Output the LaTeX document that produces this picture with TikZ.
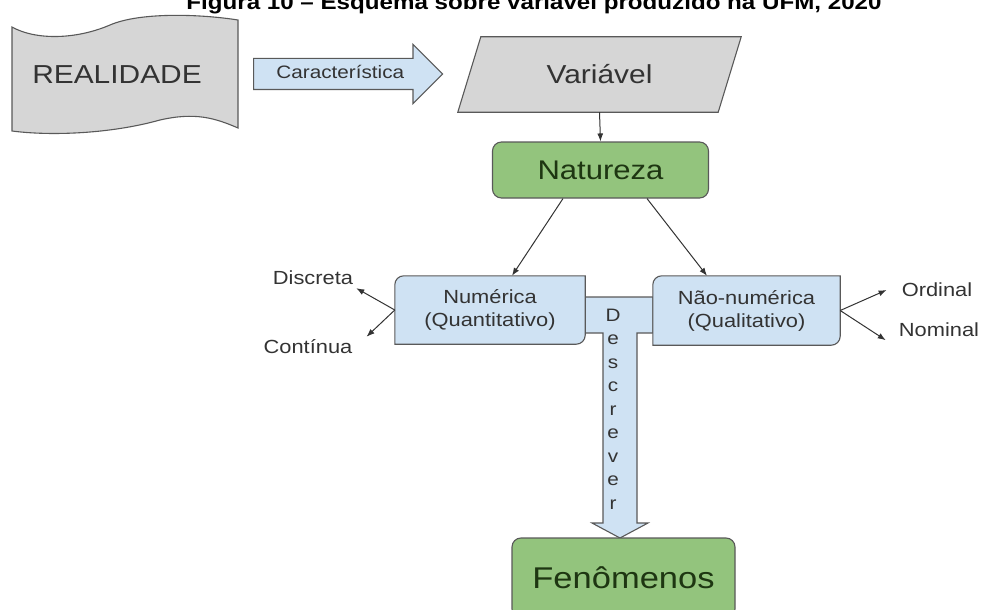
\documentclass[tikz,border=0pt]{standalone}
\usepackage{fontspec}
\setmainfont{Liberation Sans}[FakeStretch=1.15]
\usetikzlibrary{arrows.meta,shapes.arrows}

\definecolor{paperfill}{HTML}{D6D6D6}
\definecolor{bluefill}{HTML}{CFE2F3}
\definecolor{greenfill}{HTML}{93C47D}
\definecolor{edgegray}{HTML}{595959}
\definecolor{inkgray}{HTML}{333333}
\definecolor{inkgreen}{HTML}{1E3612}

\tikzset{
  catbox/.style={fill=bluefill, draw=edgegray, line width=1.1pt},
  greenbox/.style={draw=edgegray, fill=greenfill, rounded corners=9pt, line width=1.1pt,
    text=inkgreen, font=\fontsize{27}{30}\selectfont},
  smalltext/.style={font=\fontsize{19}{22}\selectfont, inner sep=3pt},
  link/.style={->, draw=inkgray, line width=1pt},
}

\begin{document}
\begin{tikzpicture}[x=1pt, y=-1pt, >={Latex[length=8pt,width=6pt]},
  every node/.append style={text=inkgray}]
  \useasboundingbox (0,0) rectangle (983,610);

  \node (title) at (534,10) [anchor=base, text=black, font=\bfseries\fontsize{21}{24}\selectfont]
    {Figura 10 -- Esquema sobre variável produzido na UFM, 2020};

  % realidade
  \filldraw[fill=paperfill, draw=edgegray, line width=1.1pt]
    (12,27) .. controls (35,40) and (75,40) .. (110,25)
    .. controls (140,12) and (200,14) .. (238,20) -- (238,128)
    .. controls (215,118) and (195,112) .. (160,120)
    .. controls (110,134) and (50,136) .. (12,131) -- cycle;
  \node (real) at (117,75) [font=\fontsize{26}{28}\selectfont] {REALIDADE};

  \node (car) at (253,74) [single arrow, anchor=tail, draw=edgegray, fill=bluefill, line width=1.1pt,
    minimum height=189pt, single arrow head extend=14pt, text height=13pt, text depth=4pt,
    inner ysep=6.5pt, inner xsep=4pt, font=\fontsize{18}{20}\selectfont] {Característica};

  % variavel
  \node (var) at (599.5,74.5) [minimum width=260pt, minimum height=75pt,
    font=\fontsize{26}{28}\selectfont] {Variável};
  \filldraw[fill=paperfill, draw=edgegray, line width=1.1pt]
    ([xshift=-11.5pt]var.south west) -- ([xshift=11.5pt]var.north west)
    -- ([xshift=11.5pt]var.north east) -- ([xshift=-11.5pt]var.south east) -- cycle;
  \node at (var.center) [font=\fontsize{26}{28}\selectfont] {Variável};

  \node (nat) at (600.5,170) [greenbox, minimum width=216pt, minimum height=56pt] {Natureza};
  \draw[link] (var.south) -- (nat.north);

  % seta descrever
  \filldraw[catbox] (585,297) -- (653,297) -- (653,333) -- (637,333) -- (637,523) -- (648,523)
    -- (620,538) -- (592,523) -- (603,523) -- (603,333) -- (585,333) -- cycle;
  \node (desc) at (613,409) [align=center, font=\fontsize{18}{23.5}\selectfont]
    {D\\e\\s\\c\\r\\e\\v\\e\\r};

  \node (num) at (490,310) [minimum width=190pt, minimum height=68pt, align=center,
    font=\fontsize{19}{23}\selectfont] {Numérica\\(Quantitativo)};
  \filldraw[catbox] (num.south west) [rounded corners=9pt] -- (num.north west)
    [sharp corners] -- (num.north east) [rounded corners=9pt] -- (num.south east)
    [sharp corners] -- cycle;
  \node at (num.center) [align=center, font=\fontsize{19}{23}\selectfont] {Numérica\\(Quantitativo)};

  \node (nnum) at (746.5,310.5) [minimum width=187pt, minimum height=69pt, align=center,
    font=\fontsize{19}{23}\selectfont] {Não-numérica\\(Qualitativo)};
  \filldraw[catbox] (nnum.south west) [rounded corners=9pt] -- (nnum.north west)
    [sharp corners] -- (nnum.north east) [rounded corners=9pt] -- (nnum.south east)
    [sharp corners] -- cycle;
  \node at (nnum.center) [align=center, font=\fontsize{19}{23}\selectfont] {Não-numérica\\(Qualitativo)};

  \draw[link] ([xshift=-37.5pt]nat.south) -- ([xshift=22pt]num.north);
  \draw[link] ([xshift=46.5pt]nat.south) -- ([xshift=-39.5pt]nnum.north);

  \node (disc) at (313,278) [smalltext] {Discreta};
  \node (cont) at (308,347) [smalltext] {Contínua};
  \node (ord) at (937,290) [smalltext] {Ordinal};
  \node (nom) at (939,330) [smalltext] {Nominal};

  \draw[link] (num.west) -- (disc.south east);
  \draw[link] (num.west) -- ([xshift=11pt]cont.north east);
  \draw[link] (nnum.east) -- ([xshift=-12pt]ord.west);
  \draw[link] (nnum.east) -- ([xshift=-10pt]nom.south west);

  \node (fen) at (623.5,578) [greenbox, minimum width=223pt, minimum height=80pt,
    font=\fontsize{30}{32}\selectfont] {Fenômenos};
\end{tikzpicture}
\end{document}
